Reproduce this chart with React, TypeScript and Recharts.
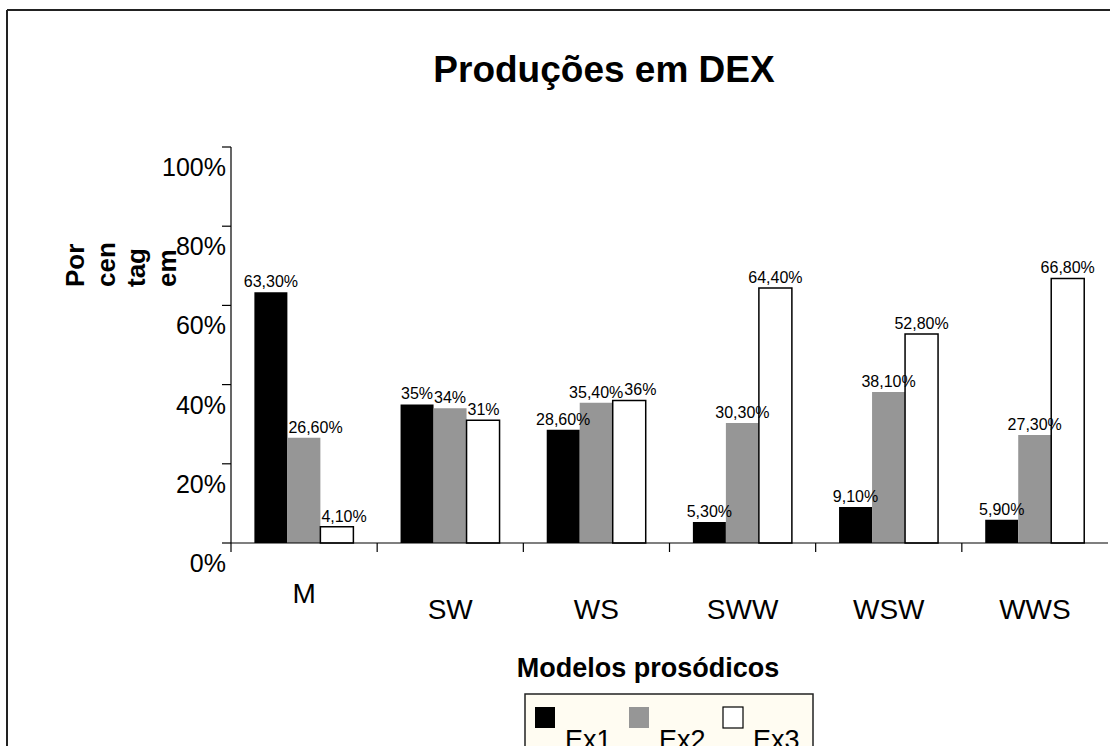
import React from 'react';
import { BarChart, Bar, XAxis, YAxis, LabelList } from 'recharts';

const categories = ['M', 'SW', 'WS', 'SWW', 'WSW', 'WWS'];
const ex1Values = [63.3, 35, 28.6, 5.3, 9.1, 5.9];
const ex2Values = [26.6, 34, 35.4, 30.3, 38.1, 27.3];
const ex3Values = [4.1, 31, 36, 64.4, 52.8, 66.8];
const ex1Labels = ['63,30%', '35%', '28,60%', '5,30%', '9,10%', '5,90%'];
const ex2Labels = ['26,60%', '34%', '35,40%', '30,30%', '38,10%', '27,30%'];
const ex3Labels = ['4,10%', '31%', '36%', '64,40%', '52,80%', '66,80%'];
const yTicks = [0, 20, 40, 60, 80, 100];
const seriesNames = ['Ex1', 'Ex2', 'Ex3'];
const seriesColors = ['#000000', '#969696', '#ffffff'];
const titleText = 'Produções em DEX';
const xTitle = 'Modelos prosódicos';
const yTitleLines = ['Por', 'cen', 'tag', 'em'];

const allValues = [ex1Values, ex2Values, ex3Values];
const allLabels = [ex1Labels, ex2Labels, ex3Labels];

const data = categories.map((c, i) => ({
  cat: c,
  ex1: ex1Values[i],
  ex2: ex2Values[i],
  ex3: ex3Values[i],
  l1: ex1Labels[i],
  l2: ex2Labels[i],
  l3: ex3Labels[i],
}));

const FONT = '"Liberation Sans", Arial, sans-serif';
const LABEL_FS = 16;
const LABEL_OFF = 5;

const charW: Record<string, number> = { ',': 0.278, '%': 0.889 };
const textWidth = (s: string, fs: number) =>
  s.split('').reduce((a, ch) => a + (charW[ch] ?? 0.556), 0) * fs;

const makeLabel = (si: number) => (props: any) => {
  const vb = props.viewBox ?? props;
  const x = Number(vb.x ?? props.x);
  const y = Number(vb.y ?? props.y);
  const width = Number(vb.width ?? props.width);
  const height = Number(vb.height ?? props.height);
  const index = props.index;
  const txt = allLabels[si][index];
  const tw = textWidth(txt, LABEL_FS);
  let left = x + width / 2 - tw / 2;
  const baseline = y - LABEL_OFF;
  if (si > 0) {
    const cur = allValues[si][index];
    const prev = allValues[si - 1][index];
    const bottom = y + height;
    const perUnit = cur > 0 ? height / cur : 0;
    const prevTop = bottom - prev * perUnit;
    if (prevTop < baseline) left = Math.max(left, x + 1);
    const prevTxt = allLabels[si - 1][index];
    const prevTw = textWidth(prevTxt, LABEL_FS);
    const prevRight = x - width / 2 + prevTw / 2;
    const prevBaseline = prevTop - LABEL_OFF;
    if (Math.abs(prevBaseline - baseline) < LABEL_FS && left < prevRight + 1) left = prevRight + 1;
  }
  return (
    <text x={left} y={baseline} textAnchor="start" fontSize={LABEL_FS} fontFamily={FONT} fill="#000">
      {txt}
    </text>
  );
};

const YTick = (props: any) => {
  const { x, y, payload } = props;
  return (
    <text x={x + 6} y={y + 29} textAnchor="end" fontSize={25} fontFamily={FONT} fill="#000">
      {payload.value}%
    </text>
  );
};

const XTick = (props: any) => {
  const { x, y, payload, index } = props;
  const off = payload.offset ?? 0;
  const dy = index === 0 ? 60 : 76;
  return (
    <g>
      <line x1={x - off} x2={x - off} y1={y} y2={y + 9} stroke="#000" strokeWidth={1.2} />
      <text x={x} y={y + dy} textAnchor="middle" fontSize={28} fontFamily={FONT} fill="#000">
        {payload.value}
      </text>
    </g>
  );
};

export default function App() {
  return (
    <div style={{ position: 'absolute', left: 0, top: 0, width: 1110, height: 746, background: '#fff', overflow: 'hidden', fontFamily: FONT }}>
      <BarChart
        width={1110}
        height={746}
        data={data}
        margin={{ top: 147, right: 2, left: 0, bottom: 0 }}
        barCategoryGap="16%"
        barGap={0}
      >
        <XAxis
          dataKey="cat"
          height={203}
          tickSize={0}
          tickMargin={0}
          tickLine={false}
          axisLine={{ stroke: '#000', strokeWidth: 1.2 }}
          tick={<XTick />}
          interval={0}
        />
        <XAxis xAxisId="top" dataKey="cat" orientation="top" height={0} tick={false} tickLine={false} axisLine={{ stroke: '#a0a0a0', strokeWidth: 1.5 }} />
        <YAxis
          width={231}
          domain={[0, 100]}
          ticks={yTicks}
          tickSize={9}
          tickLine={{ stroke: '#000', strokeWidth: 1.2 }}
          axisLine={{ stroke: '#000', strokeWidth: 1.2 }}
          tick={<YTick />}
          interval={0}
        />
        <YAxis yAxisId="right" orientation="right" width={0} domain={[0, 100]} tick={false} tickLine={false} axisLine={{ stroke: '#a0a0a0', strokeWidth: 1.5 }} />
        <Bar dataKey="ex1" name={seriesNames[0]} fill={seriesColors[0]} isAnimationActive={false}>
          <LabelList dataKey="l1" content={makeLabel(0)} />
        </Bar>
        <Bar dataKey="ex2" name={seriesNames[1]} fill={seriesColors[1]} isAnimationActive={false}>
          <LabelList dataKey="l2" content={makeLabel(1)} />
        </Bar>
        <Bar dataKey="ex3" name={seriesNames[2]} fill={seriesColors[2]} stroke="#000" strokeWidth={1.5} isAnimationActive={false}>
          <LabelList dataKey="l3" content={makeLabel(2)} />
        </Bar>
      </BarChart>
      <svg width={1110} height={746} style={{ position: 'absolute', left: 0, top: 0, pointerEvents: 'none' }}>
        <line x1={7} y1={10} x2={1110} y2={10} stroke="#222" strokeWidth={2} />
        <line x1={7} y1={10} x2={7} y2={746} stroke="#222" strokeWidth={2} />
        <text x={604} y={82} textAnchor="middle" fontSize={37} fontWeight="bold" fontFamily={FONT} fill="#000">
          {titleText}
        </text>
        <text x={648} y={677} textAnchor="middle" fontSize={27} fontWeight="bold" fontFamily={FONT} fill="#000">
          {xTitle}
        </text>
        {yTitleLines.map((t, i) => (
          <text
            key={t}
            transform={`translate(${84 + i * 30.5}, 287) rotate(-90)`}
            textAnchor="start"
            fontSize={26}
            fontWeight="bold"
            fontFamily={FONT}
            fill="#000"
          >
            {t}
          </text>
        ))}
        <rect x={525} y={694} width={288} height={70} fill="#fffcf2" stroke="#222" strokeWidth={1.5} />
        {seriesNames.map((n, i) => (
          <g key={n}>
            <rect
              x={535 + i * 94}
              y={707}
              width={20}
              height={21}
              fill={seriesColors[i]}
              stroke={i === 2 ? '#000' : 'none'}
              strokeWidth={1.2}
            />
            <text x={565 + i * 94} y={749} fontSize={27} fontFamily={FONT} fill="#000">
              {n}
            </text>
          </g>
        ))}
      </svg>
    </div>
  );
}
